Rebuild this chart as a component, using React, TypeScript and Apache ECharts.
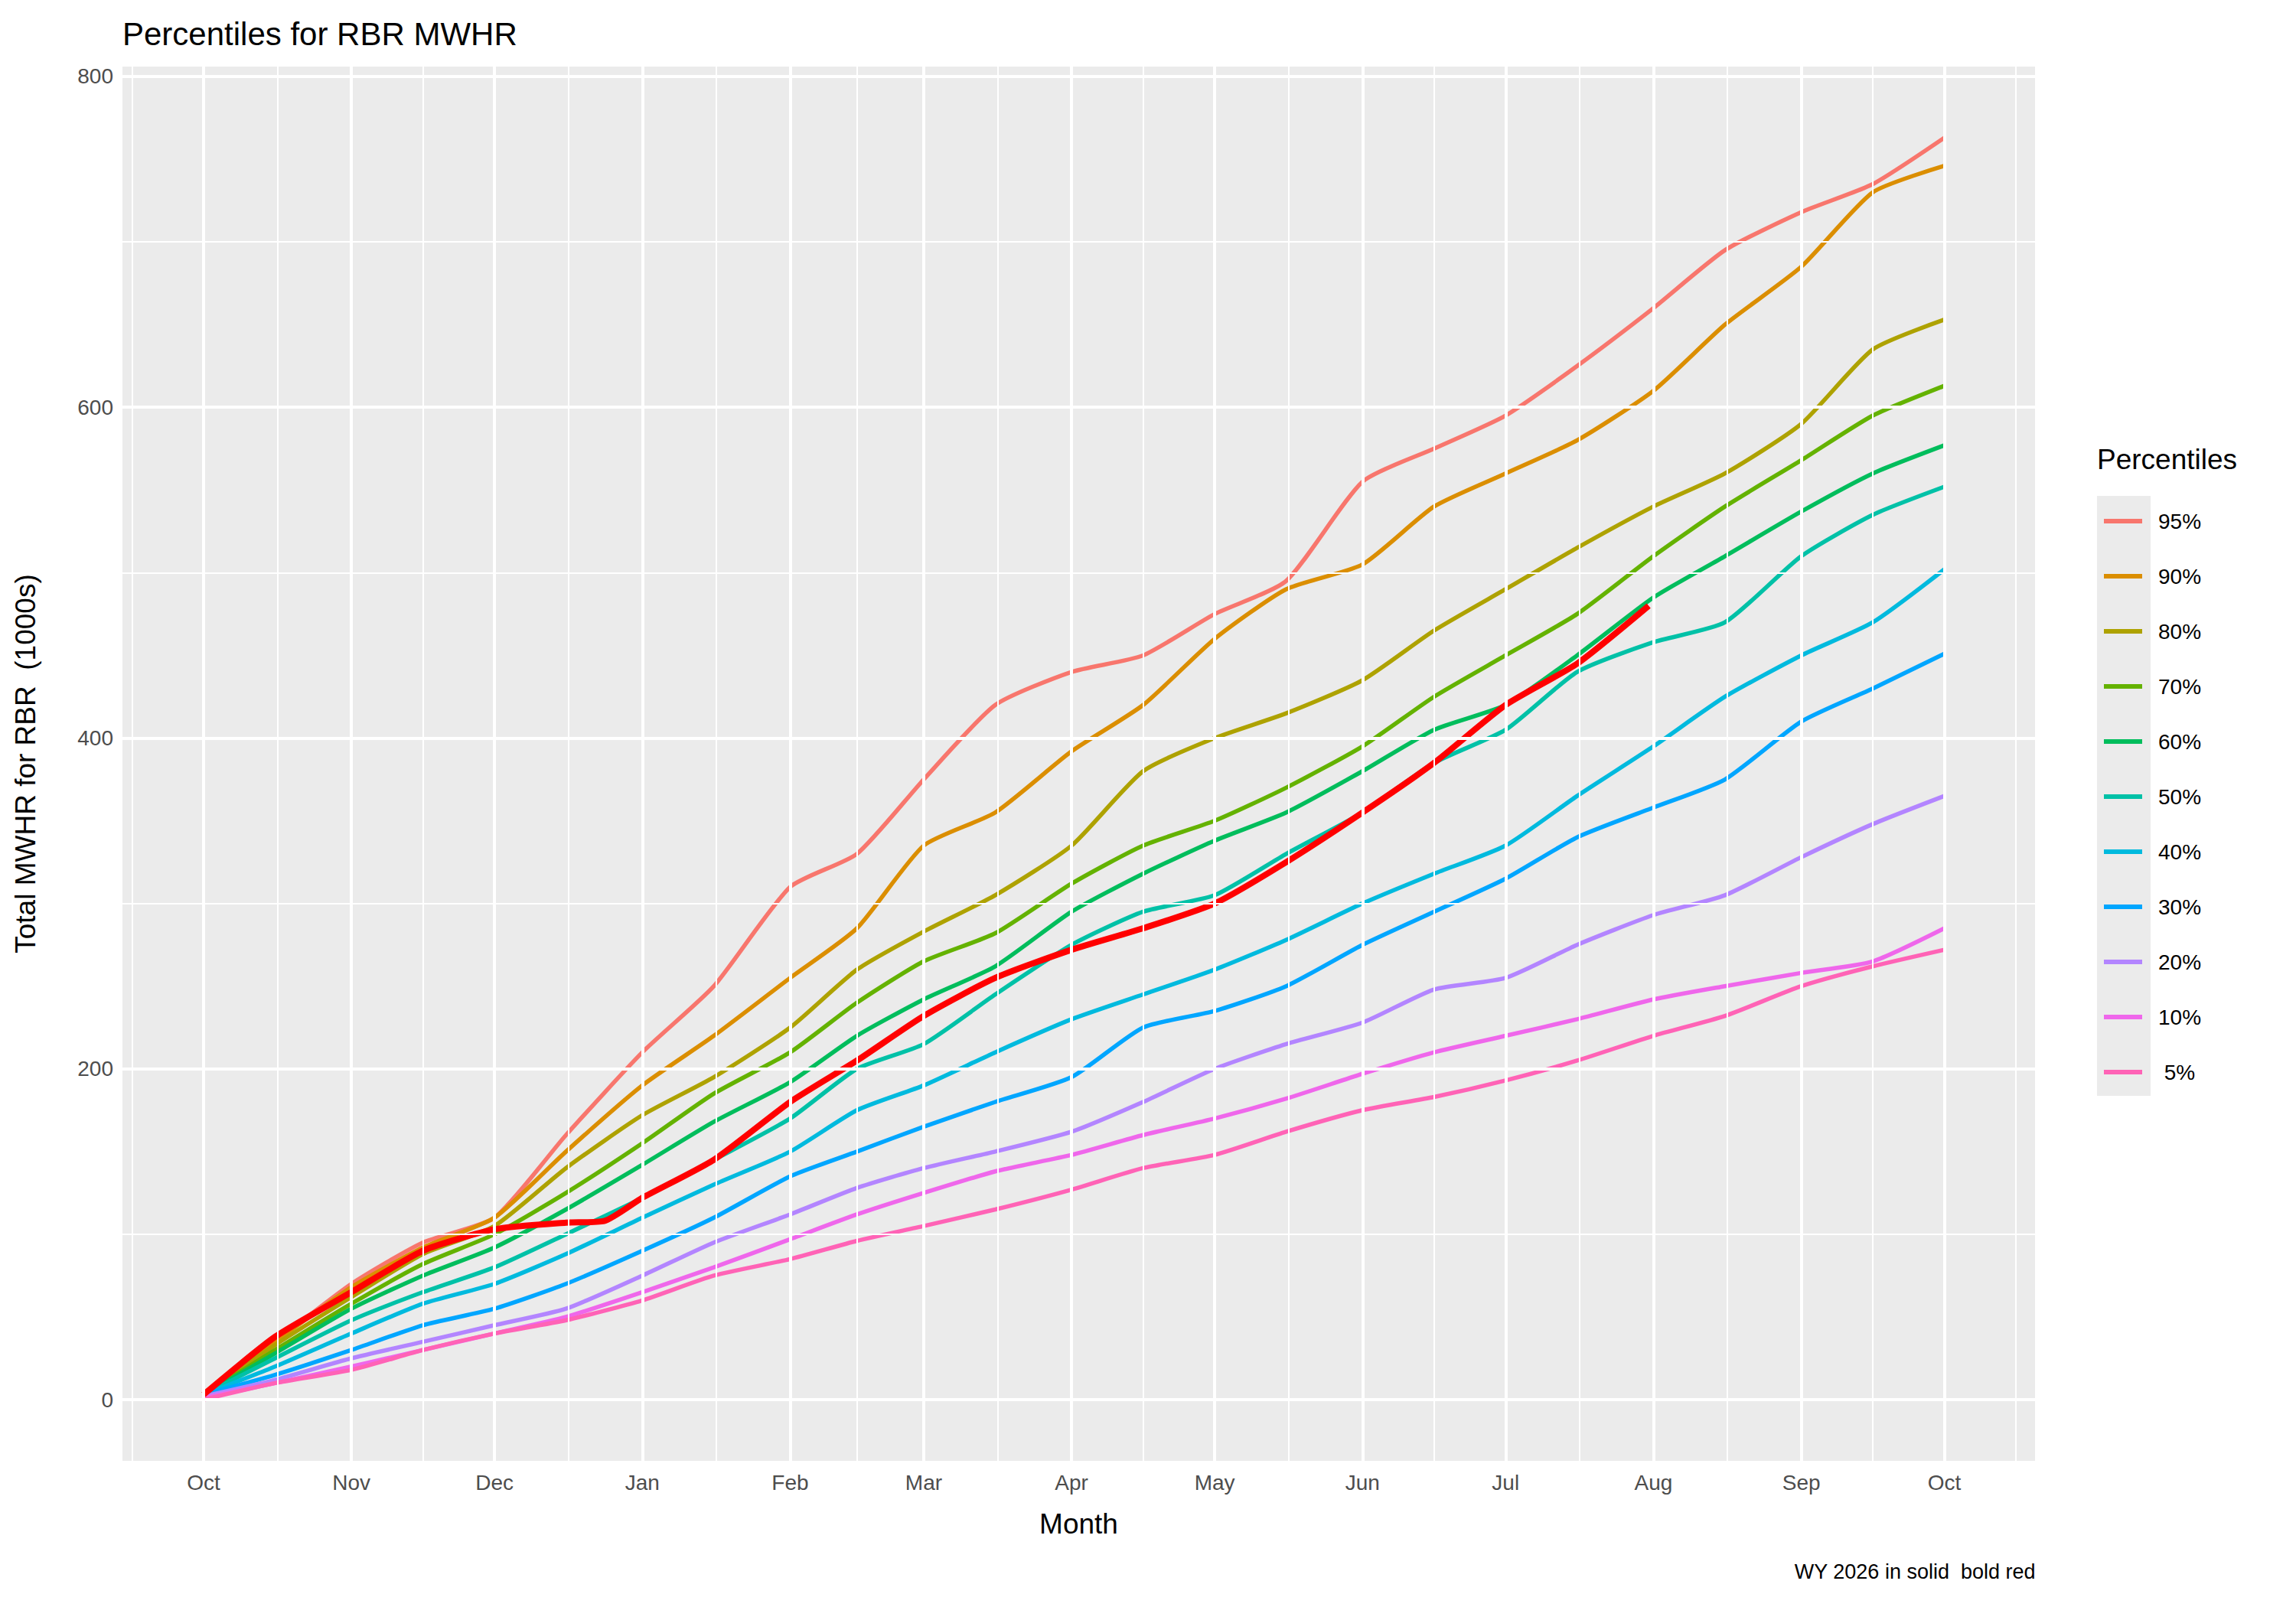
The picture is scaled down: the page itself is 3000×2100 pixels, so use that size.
import { useEffect, useRef } from 'react';
import * as echarts from 'echarts';

// day-of-water-year for each sample point (Oct 1 = 0)
const days = [0, 15, 31, 46, 61, 76, 92, 107, 123, 137, 151, 166, 182, 197, 212, 227, 243, 258, 273, 288, 304, 319, 335, 350, 365];
const monthStarts = [0, 31, 61, 92, 123, 151, 182, 212, 243, 273, 304, 335, 365];
const monthLabels = ['Oct', 'Nov', 'Dec', 'Jan', 'Feb', 'Mar', 'Apr', 'May', 'Jun', 'Jul', 'Aug', 'Sep', 'Oct'];
const yTicks = [0, 200, 400, 600, 800];

const p95 = [3, 35, 70, 95, 110, 160, 210, 250, 310, 330, 375, 420, 440, 450, 475, 495, 555, 575, 595, 625, 660, 695, 718, 735, 763];
const p90 = [3, 35, 68, 92, 110, 150, 190, 220, 255, 285, 335, 355, 392, 420, 460, 490, 505, 540, 560, 580, 610, 650, 685, 730, 746];
const p80 = [3, 33, 62, 88, 105, 140, 172, 195, 225, 260, 283, 305, 335, 380, 400, 415, 435, 465, 490, 515, 540, 560, 590, 635, 653];
const p70 = [3, 30, 58, 82, 100, 125, 155, 185, 210, 240, 265, 282, 312, 335, 350, 370, 395, 425, 450, 475, 510, 540, 568, 595, 613];
const p60 = [3, 28, 55, 75, 92, 115, 142, 168, 192, 220, 242, 262, 295, 318, 338, 355, 380, 405, 420, 450, 485, 510, 537, 560, 577];
const p50 = [3, 25, 48, 65, 80, 100, 122, 145, 170, 200, 215, 245, 275, 295, 305, 330, 355, 385, 405, 440, 458, 470, 510, 535, 552];
const p40 = [3, 20, 40, 58, 70, 88, 110, 130, 150, 175, 190, 210, 230, 245, 260, 278, 300, 318, 335, 365, 395, 425, 450, 470, 502];
const p30 = [3, 15, 30, 45, 55, 70, 90, 110, 135, 150, 165, 180, 195, 225, 235, 250, 275, 295, 315, 340, 358, 375, 410, 430, 451];
const p20 = [2, 12, 25, 35, 45, 55, 75, 95, 112, 128, 140, 150, 162, 180, 200, 215, 228, 248, 255, 275, 293, 305, 328, 348, 365];
const p10 = [1, 10, 20, 30, 40, 50, 65, 80, 97, 112, 125, 138, 148, 160, 170, 182, 197, 210, 220, 230, 242, 250, 258, 265, 285];
const p05 = [0, 10, 18, 30, 40, 48, 60, 75, 85, 96, 105, 115, 127, 140, 148, 162, 175, 183, 193, 205, 220, 232, 250, 262, 272];

const wyDays = [0, 15, 31, 46, 61, 76, 84, 92, 107, 123, 137, 151, 166, 182, 197, 212, 227, 243, 258, 273, 288, 303];
const wy2026 = [3, 38, 65, 90, 103, 107, 108, 122, 145, 180, 205, 232, 255, 272, 285, 300, 325, 355, 385, 420, 445, 480];

const names = ['95%', '90%', '80%', '70%', '60%', '50%', '40%', '30%', '20%', '10%', ' 5%'];
const values = [p95, p90, p80, p70, p60, p50, p40, p30, p20, p10, p05];
const colors = ['#F8766D', '#DB8E00', '#AEA200', '#64B200', '#00BD5C', '#00C1A7', '#00BADE', '#00A6FF', '#B385FF', '#EF67EB', '#FF63B6'];

const FONT = '"Liberation Sans", Arial, sans-serif';

export default function App() {
  const chartRef = useRef<HTMLDivElement>(null);

  useEffect(() => {
    if (!chartRef.current) return;
    document.body.style.margin = '0';
    const chart = echarts.init(chartRef.current, undefined, { renderer: 'svg' });

    const minorX: number[] = [-15];
    for (let i = 0; i < monthStarts.length - 1; i++) minorX.push((monthStarts[i] + monthStarts[i + 1]) / 2);
    minorX.push(380);

    const grid = (axis: 'xAxis' | 'yAxis', v: number, w: number) => ({
      [axis]: v,
      lineStyle: { color: '#FFFFFF', width: w, type: 'solid' },
    });

    const gridLines = [
      ...monthStarts.map((v) => grid('xAxis', v, 4)),
      ...minorX.map((v) => grid('xAxis', v, 2)),
      ...yTicks.map((v) => grid('yAxis', v, 4)),
      ...[100, 300, 500, 700].map((v) => grid('yAxis', v, 2)),
    ];

    const option: echarts.EChartsOption = {
      animation: false,
      backgroundColor: '#FFFFFF',
      title: {
        text: 'Percentiles for RBR MWHR',
        left: 155,
        top: 18,
        textStyle: { fontFamily: FONT, fontSize: 42, fontWeight: 'normal', color: '#000000' },
      },
      grid: { left: 160, right: 341, top: 87, bottom: 191, backgroundColor: '#EBEBEB', show: true, borderWidth: 0 },
      xAxis: {
        type: 'value',
        min: -17,
        max: 384,
        name: 'Month',
        nameLocation: 'middle',
        nameGap: 64,
        nameTextStyle: { fontFamily: FONT, fontSize: 37, color: '#000000' },
        axisLine: { show: false },
        splitLine: { show: false },
        axisTick: { show: true, customValues: monthStarts, length: 9, lineStyle: { color: '#333333', width: 2 } },
        axisLabel: {
          customValues: monthStarts,
          formatter: (v: number) => monthLabels[monthStarts.indexOf(v)] ?? '',
          fontFamily: FONT,
          fontSize: 28,
          color: '#4D4D4D',
          margin: 14,
        },
      },
      yAxis: {
        type: 'value',
        min: -37,
        max: 806,
        name: 'Total MWHR for RBR  (1000s)',
        nameLocation: 'middle',
        nameRotate: 90,
        nameGap: 108,
        nameTextStyle: { fontFamily: FONT, fontSize: 37, color: '#000000' },
        axisLine: { show: false },
        splitLine: { show: false },
        axisTick: { show: true, customValues: yTicks, length: 9, lineStyle: { color: '#333333', width: 2 } },
        axisLabel: {
          customValues: yTicks,
          fontFamily: FONT,
          fontSize: 28,
          color: '#4D4D4D',
          margin: 12,
        },
      },
      legend: {
        data: names,
        orient: 'vertical',
        left: 2744,
        top: 656,
        icon: 'rect',
        itemWidth: 50,
        itemHeight: 6,
        itemGap: 32,
        textStyle: { fontFamily: FONT, fontSize: 28, color: '#000000', lineHeight: 40, padding: [0, 0, 0, 16] },
      },
      graphic: [
        { type: 'rect', left: 2740, top: 648, shape: { width: 70, height: 784 }, style: { fill: '#EBEBEB' }, z: -1 },
        {
          type: 'text',
          left: 2740,
          top: 582,
          style: { text: 'Percentiles', fontFamily: FONT, fontSize: 37, fill: '#000000' },
        },
        {
          type: 'text',
          right: 340,
          top: 2040,
          style: { text: 'WY 2026 in solid  bold red', fontFamily: FONT, fontSize: 27, fill: '#000000' },
        },
      ],
      series: [
        {
          name: '_grid',
          type: 'line',
          data: [],
          silent: true,
          z: 1,
          markLine: { silent: true, symbol: 'none', label: { show: false }, data: gridLines as any },
        },
        ...names.map((n, i) => ({
          name: n,
          type: 'line' as const,
          data: days.map((d, j) => [d, values[i][j]]),
          showSymbol: false,
          smooth: 0.2,
          color: colors[i],
          lineStyle: { width: 5.5, color: colors[i] },
          z: 2,
        })),
        {
          name: 'WY 2026',
          type: 'line',
          data: wyDays.map((d, j) => [d, wy2026[j]]),
          showSymbol: false,
          smooth: 0.2,
          color: '#FF0000',
          lineStyle: { width: 8, color: '#FF0000' },
          z: 3,
        },
      ],
    };

    chart.setOption(option);
    return () => chart.dispose();
  }, []);

  return <div ref={chartRef} style={{ width: 3000, height: 2100 }} />;
}
